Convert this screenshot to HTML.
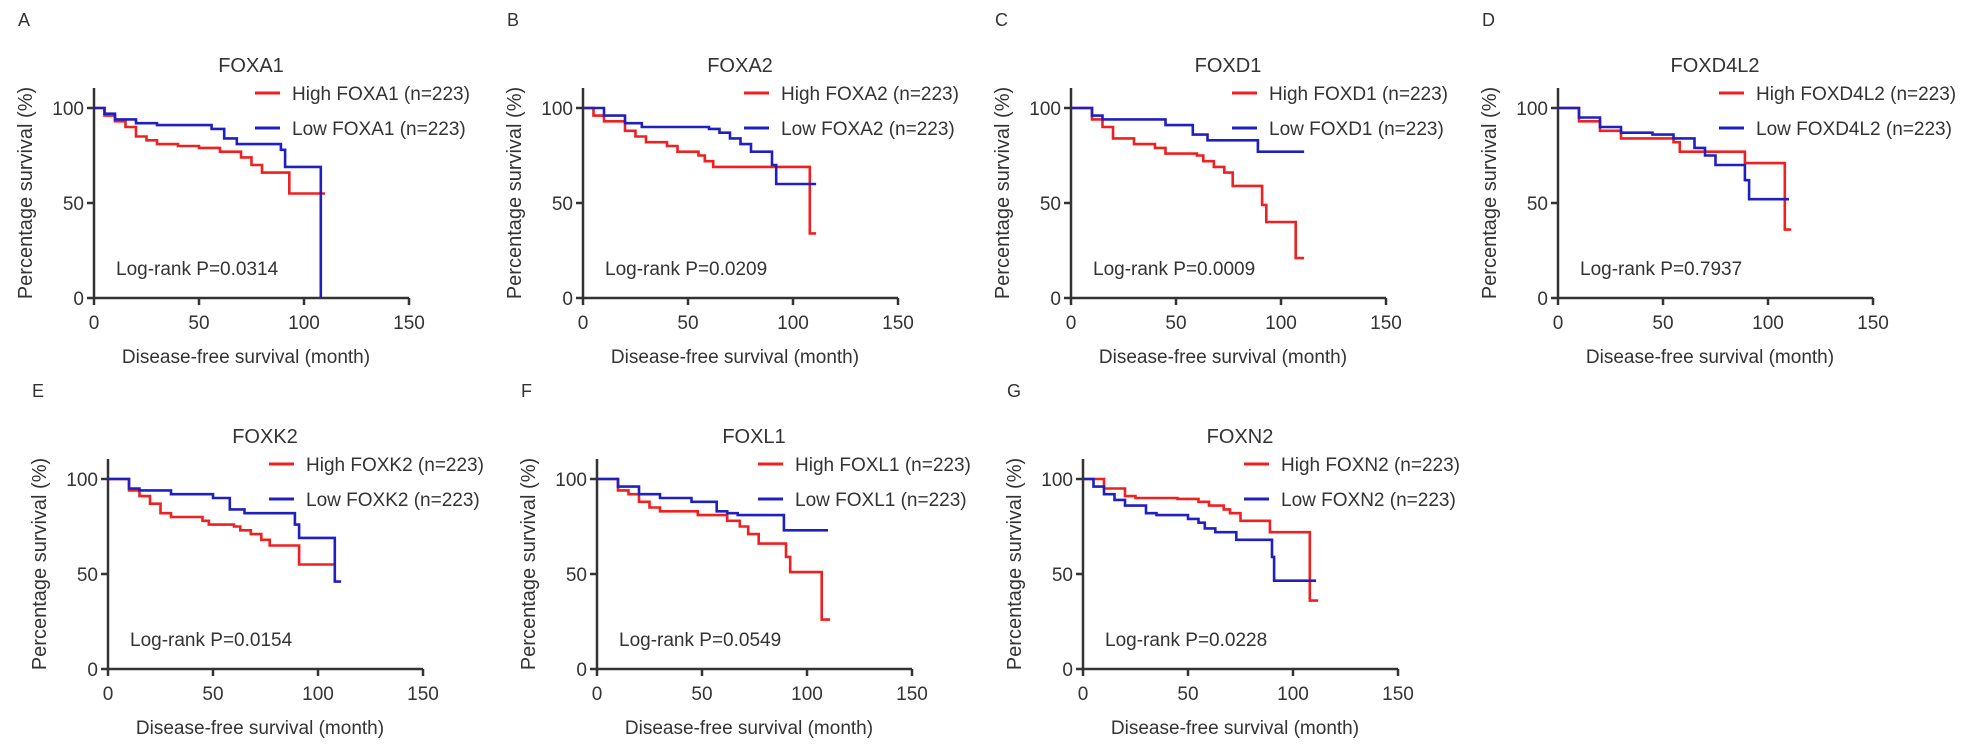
<!DOCTYPE html>
<html><head><meta charset="utf-8"><style>
html,body{margin:0;padding:0;background:#fff;}
svg{display:block;font-family:"Liberation Sans",Arial,sans-serif;}
</style></head><body>
<svg id="fig" width="1962" height="753" viewBox="0 0 1962 753" xmlns="http://www.w3.org/2000/svg"></svg>
<script>
// Kaplan-Meier step data: [month, survival %]
const foxa1High = [[0,100],[5,96],[10,93],[15,90],[20,85],[25,83],[30,81],[40,80],[50,79],[60,77],[70,74],[75,70],[80,66],[93,55],[110,55]];
const foxa1Low  = [[0,100],[5,97],[10,94],[20,92],[30,91],[56,89],[62,84],[68,81],[89,78],[91,69],[108,0]];
const foxa2High = [[0,100],[5,96],[10,93],[20,88],[25,85],[30,82],[40,80],[45,77],[55,75],[58,72],[62,69],[108,34],[111,34]];
const foxa2Low  = [[0,100],[10,96],[20,92],[28,90],[60,89],[65,87],[70,84],[75,81],[80,77],[90,70],[92,60],[111,60]];
const foxd1High = [[0,100],[10,94],[15,90],[20,84],[30,81],[40,79],[45,76],[60,75],[63,72],[68,69],[73,66],[77,59],[91,49],[93,40],[107,21],[111,21]];
const foxd1Low  = [[0,100],[10,96],[15,94],[45,91],[58,86],[65,83],[89,77],[111,77]];
const foxd4High = [[0,100],[10,93],[20,88],[30,84],[55,82],[58,77],[89,71],[108,36],[111,36]];
const foxd4Low  = [[0,100],[10,95],[20,90],[30,87],[45,86],[55,84],[65,79],[70,75],[75,70],[89,62],[91,52],[110,52]];
const foxk2High = [[0,100],[10,94],[15,91],[20,87],[25,82],[30,80],[45,78],[48,76],[60,75],[63,73],[68,71],[73,68],[77,65],[91,55],[108,55]];
const foxk2Low  = [[0,100],[10,95],[15,94],[30,92],[45,92],[50,90],[58,84],[65,82],[89,76],[91,69],[108,46],[111,46]];
const foxl1High = [[0,100],[10,94],[15,92],[20,88],[25,85],[30,83],[48,81],[62,78],[68,75],[72,71],[77,66],[90,59],[92,51],[107,26],[111,26]];
const foxl1Low  = [[0,100],[10,96],[20,92],[30,90],[45,88],[57,83],[62,82],[67,81],[89,73],[110,73]];
const foxn2High = [[0,100],[10,95],[20,91],[25,90],[45,89.5],[55,88],[60,86],[67,84],[70,82],[75,78],[89,72],[108,36],[112,36]];
const foxn2Low  = [[0,100],[5,96],[10,92],[15,89],[20,86],[30,82],[35,81],[50,79],[55,77],[58,74],[63,72],[73,68],[90,59],[91,46.5],[111,46.5]];
const panelLetters = ["A","B","C","D","E","F","G"];
const panelGenes = ["FOXA1","FOXA2","FOXD1","FOXD4L2","FOXK2","FOXL1","FOXN2"];
const panelPvals = ["0.0314","0.0209","0.0009","0.7937","0.0154","0.0549","0.0228"];
const highSeries = [foxa1High,foxa2High,foxd1High,foxd4High,foxk2High,foxl1High,foxn2High];
const lowSeries = [foxa1Low,foxa2Low,foxd1Low,foxd4Low,foxk2Low,foxl1Low,foxn2Low];
const xTicks = [0,50,100,150];
const yTicks = [0,50,100];

const NS = "http://www.w3.org/2000/svg";
const svg = document.getElementById("fig");
const origins = [[94,298],[583,298],[1071,298],[1558,298],[108,669],[597,669],[1083,669]];
const PXM = 2.1, PXS = 1.9;
const TXT = "#333";
function mk(tag, attrs, parent){ const e=document.createElementNS(NS,tag); for(const k in attrs) e.setAttribute(k,attrs[k]); (parent||svg).appendChild(e); return e; }
function txt(s, attrs, parent){ const e=mk("text",Object.assign({fill:TXT},attrs),parent); e.textContent=s; return e; }

panelGenes.forEach((gene,i)=>{
  const [x0,yb]=origins[i];
  const sx = m => x0 + m*PXM;
  const sy = v => yb - v*PXS;
  const g = mk("g",{});
  
  
  const L = txt(panelLetters[i],{x:x0-76,y:yb-272,"font-size":18},g);
  
  
  const T = txt(gene,{x:x0+157,y:yb-226,"font-size":20,"text-anchor":"middle"},g);
  
  
  // axes
  const ax = mk("path",{d:`M${x0},${yb-210} V${yb} H${sx(150)}`,stroke:"#333","stroke-width":2.5,fill:"none"},g);
  
  
  xTicks.forEach(t=>{
    const tk = mk("line",{x1:sx(t),x2:sx(t),y1:yb,y2:yb+7,stroke:"#333","stroke-width":2.5},g);
    
    
    const tl = txt(String(t),{x:sx(t),y:yb+31,"font-size":19,"text-anchor":"middle"},g);
    
    
  });
  yTicks.forEach(t=>{
    const tk = mk("line",{x1:x0-7,x2:x0,y1:sy(t),y2:sy(t),stroke:"#333","stroke-width":2.5},g);
    
    
    const tl = txt(String(t),{x:x0-10,y:sy(t)+7,"font-size":19,"text-anchor":"end"},g);
    
    
  });
  const yt = txt("Percentage survival (%)",{x:0,y:0,"font-size":20,"text-anchor":"middle",transform:`translate(${x0-62},${yb-105}) rotate(-90)`},g);
  
  
  const xt = txt("Disease-free survival (month)",{x:x0+152,y:yb+65,"font-size":19,"text-anchor":"middle"},g);
  
  
  const lr = txt("Log-rank  P="+panelPvals[i],{x:x0+22,y:yb-23,"font-size":19,"xml:space":"preserve"},g);
  
  
  // curves
  [[highSeries[i],"#f02020","High"],[lowSeries[i],"#2020c0","Low"]].forEach(([pts,col,lab])=>{
    let d=`M${sx(pts[0][0])},${sy(pts[0][1])}`;
    for(let k=1;k<pts.length;k++){ d+=` H${sx(pts[k][0])} V${sy(pts[k][1])}`; }
    const p = mk("path",{d:d,stroke:col,"stroke-width":2.6,fill:"none"},g);
    
    
  });
  // legend
  [["High","#f02020",205],["Low","#2020c0",170]].forEach(([lab,col,dy])=>{
    const le = mk("g",{},g);
    
    
    mk("line",{x1:x0+161,x2:x0+186,y1:yb-dy,y2:yb-dy,stroke:col,"stroke-width":3},le);
    txt(`${lab} ${gene} (n=223)`,{x:x0+198,y:yb-dy+7,"font-size":19},le);
  });
});
</script>
</body></html>
